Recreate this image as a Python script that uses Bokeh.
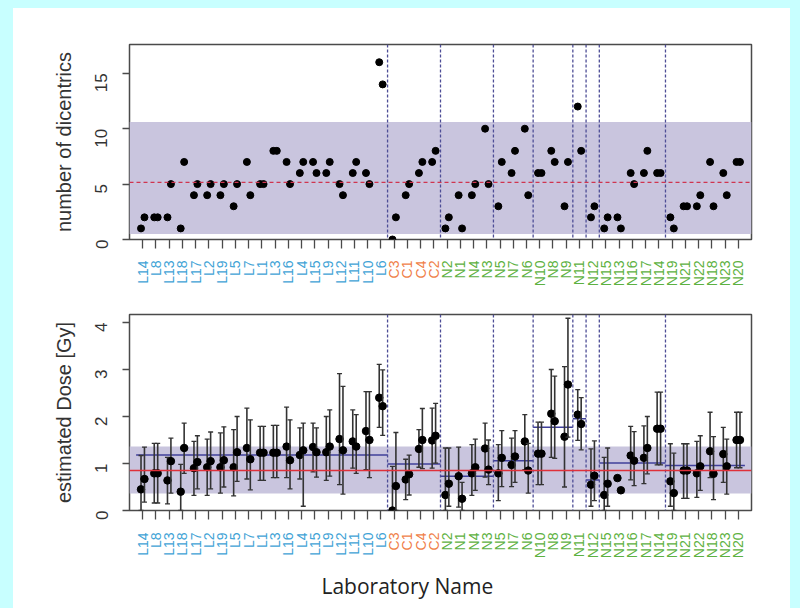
import math
from bokeh.plotting import figure
from bokeh.models import Span, BoxAnnotation, ColumnDataSource, FixedTicker
from bokeh.layouts import column
from bokeh.core.properties import value
from bokeh.embed import file_html
from bokeh.resources import INLINE

nan = float("nan")

labs = ["L14","L8","L13","L18","L17","L2","L19","L5","L7","L1","L3","L16","L4","L15","L9",
        "L12","L11","L10","L6","C3","C1","C4","C2","N2","N1","N4","N3","N5","N7","N6","N10",
        "N8","N9","N11","N12","N15","N13","N16","N17","N14","N19","N21","N22","N18","N23","N20"]

dic_a = [1,2,2,1,4,4,4,3,7,5,8,7,6,7,6,5,6,6,16, 0,4,6,7,
         1,4,4,10,3,6,10,6,8,3,12,2,1,2,6,6,6,2,3,3,7,6,7]
dic_b = [2,2,5,7,5,5,5,5,4,5,8,5,7,6,7,4,7,5,14, 2,5,7,8,
         2,1,5,5,7,8,4,6,7,7,8,3,2,1,5,8,6,1,3,4,3,4,7]

dose_a = [0.45,0.79,0.64,0.40,0.90,0.92,0.92,0.92,1.33,1.23,1.23,1.36,1.18,1.35,1.24,1.52,1.47,1.69,2.40,
          0.00,0.66,1.31,1.49,
          0.33,0.73,0.79,1.32,0.79,0.97,1.47,1.21,2.06,1.57,2.04,0.55,0.33,0.69,1.17,1.12,1.74,0.62,0.85,0.79,1.26,1.20,1.50]
lo_a = [0.00,0.16,0.14,0.00,0.32,0.32,0.37,0.31,0.67,0.64,0.70,0.70,0.67,0.82,0.64,0.55,0.90,0.87,1.77,
        0.00,0.23,0.92,0.90,
        0.00,0.07,0.32,0.71,0.21,0.51,0.87,0.55,1.13,0.50,1.49,0.09,0.00,nan,0.65,0.57,0.97,0.09,0.26,0.28,0.70,0.60,0.91]
hi_a = [1.17,1.43,1.13,0.98,1.47,1.52,1.65,1.72,2.18,1.79,1.81,2.20,1.76,1.86,2.00,2.91,2.14,2.53,3.11,
        0.94,1.09,1.72,2.18,
        1.33,1.35,1.40,1.86,1.40,1.54,2.04,1.88,3.00,3.06,2.57,1.31,1.13,nan,1.79,1.80,2.52,1.42,1.42,1.47,2.09,1.77,2.09]

dose_b = [0.67,0.79,1.05,1.33,1.03,1.05,1.07,1.24,1.09,1.23,1.23,1.07,1.28,1.24,1.36,1.28,1.36,1.50,2.22,
          0.52,0.77,1.50,1.59,
          0.57,0.25,0.92,0.87,1.12,1.15,0.85,1.21,1.90,2.68,1.84,0.74,0.57,0.43,1.06,1.33,1.74,0.37,0.85,0.94,0.78,0.94,1.50]
lo_b = [0.18,0.16,0.37,0.79,0.46,0.46,0.50,0.62,0.44,0.64,0.70,0.46,0.09,0.71,0.73,0.35,0.79,0.70,1.60,
        0.00,0.33,0.89,1.01,
        0.09,0.00,0.43,0.55,0.51,0.60,0.37,0.55,1.11,1.56,1.29,0.21,0.09,nan,0.53,0.78,0.97,0.00,0.26,0.43,0.23,0.35,0.91]
hi_b = [1.35,1.43,1.54,1.86,1.59,1.67,1.78,2.00,1.93,1.79,1.81,1.93,1.86,1.76,2.14,2.64,2.04,2.53,2.99,
        1.66,1.18,2.17,2.28,
        1.33,0.60,1.52,1.50,1.70,1.70,1.43,1.88,2.86,4.09,2.40,1.48,1.33,nan,1.68,2.00,2.52,1.22,1.42,1.59,1.57,1.52,2.09]

group_sizes = [19, 4, 4, 3, 3, 1, 1, 5, 6]
group_mean_dose = [1.18, 0.99, 0.73, 1.06, 1.77, 1.95, 0.65, 1.01, 0.96]

dic_mean, dic_band = 5.15, (0.5, 10.6)
dose_ref, dose_band = 0.85, (0.36, 1.36)

FONT = "Liberation Sans"
BAND = "#C9C5DE"
LAB_COLORS = {"L": "#3FA3D6", "C": "#F07F4A", "N": "#5DB141"}

n = len(labs)
xpos = list(range(1, n + 1))
off = 0.13
xa = [x - off for x in xpos]
xb = [x + off for x in xpos]
lab_cols = [LAB_COLORS[l[0]] for l in labs]

bounds = []
starts = []
c = 0
for s in group_sizes:
    starts.append(c + 1)
    c += s
    bounds.append(c + 0.5)
vlines = bounds[:-1]

W = 777
LB, RB = 116, 39


def base_fig(height, ymax, yticks, ylabel, top_border, bottom_border):
    p = figure(width=W, height=height, x_range=(0, n + 1), y_range=(0, ymax),
               output_backend="svg", toolbar_location=None,
               min_border_left=LB, min_border_right=RB,
               min_border_top=top_border, min_border_bottom=bottom_border)
    p.border_fill_color = "white"
    p.background_fill_color = "white"
    p.outline_line_color = "#4a4a4a"
    p.outline_line_width = 1.5
    p.grid.visible = False
    for ax in (p.xaxis, p.yaxis):
        ax.axis_line_color = None
        ax.major_tick_line_color = "#4a4a4a"
        ax.major_tick_line_width = 1.3
        ax.minor_tick_line_color = None
        ax.major_tick_in = 0
    p.xaxis.major_tick_out = 9
    p.yaxis.major_tick_out = 7
    p.xaxis.ticker = FixedTicker(ticks=xpos)
    p.xaxis.major_label_text_color = None
    p.xaxis.major_label_text_font_size = "1px"
    p.xaxis.major_label_standoff = 0
    p.yaxis.ticker = FixedTicker(ticks=yticks)
    p.yaxis.major_label_orientation = math.pi / 2
    p.yaxis.major_label_text_font = FONT
    p.yaxis.major_label_text_font_size = "17px"
    p.yaxis.major_label_text_color = "#333333"
    p.yaxis.major_label_standoff = 21
    p.yaxis.axis_label = ylabel
    p.yaxis.axis_label_text_font = FONT
    p.yaxis.axis_label_text_font_size = "20px"
    p.yaxis.axis_label_text_font_style = "normal"
    p.yaxis.axis_label_text_color = "#333333"
    p.yaxis.axis_label_standoff = 12
    for v in vlines:
        p.add_layout(Span(location=v, dimension="height", line_color="#4d4d96",
                          line_width=1.3, line_dash="3 2"))
    return p


def strip_fig(height, label_top):
    s = figure(width=W, height=height, x_range=(0, n + 1), y_range=(0, height),
               output_backend="svg", toolbar_location=None,
               min_border_left=LB, min_border_right=RB, min_border_top=0, min_border_bottom=0,
               x_axis_type=None, y_axis_type=None)
    s.border_fill_color = "white"
    s.background_fill_color = "white"
    s.outline_line_color = None
    s.grid.visible = False
    src = ColumnDataSource(dict(x=xpos, y=[height - label_top] * n, t=labs, c=lab_cols))
    s.text(x="x", y="y", text="t", source=src, text_color="c", angle=math.pi / 2,
           text_align="right", text_baseline="middle",
           text_font=value(FONT), text_font_size=value("14px"))
    return s


# ---------- top panel ----------
p1 = base_fig(245, 17.6, [0, 5, 10, 15], "number of dicentrics", 36, 14)
p1.add_layout(BoxAnnotation(bottom=dic_band[0], top=dic_band[1], fill_color=BAND,
                            fill_alpha=1.0, line_color=None, level="underlay"))
p1.add_layout(Span(location=dic_mean, dimension="width", line_color="#D0354F",
                   line_width=1.3, line_dash="4 3"))
p1.scatter(xa, dic_a, size=7, color="black")
p1.scatter(xb, dic_b, size=7, color="black")

s1 = strip_fig(47, 7)

# ---------- bottom panel ----------
p2 = base_fig(224, 4.17, [0, 1, 2, 3, 4], "estimated Dose [Gy]", 14, 14)
p2.add_layout(BoxAnnotation(bottom=dose_band[0], top=dose_band[1], fill_color=BAND,
                            fill_alpha=1.0, line_color=None, level="underlay"))
p2.add_layout(Span(location=dose_ref, dimension="width", line_color="#E0303A", line_width=1.5))
gx0 = [s - 0.5 for s in starts]
gx1 = bounds
p2.segment(x0=gx0, y0=group_mean_dose, x1=gx1, y1=group_mean_dose,
           line_color="#3f3f9a", line_width=1.5)
for xs, lo, hi, d in ((xa, lo_a, hi_a, dose_a), (xb, lo_b, hi_b, dose_b)):
    p2.segment(x0=xs, y0=lo, x1=xs, y1=hi, line_color="#333333", line_width=1.6)
    p2.scatter(xs, hi, marker="dash", size=5, line_color="#333333", line_width=1.3)
    p2.scatter(xs, lo, marker="dash", size=5, line_color="#333333", line_width=1.3)
    p2.scatter(xs, d, size=7.5, color="black")

s2 = strip_fig(84, 8)
s2.text(x=[21.2], y=[23], text=["Laboratory  Name"], text_align="center",
        text_baseline="middle", text_font=value("Open Sans"), text_font_size=value("21px"),
        text_color="#222222")

inner = column(p1, s1, p2, s2, spacing=0, margin=(8, 10, 0, 13),
               styles={"background-color": "white"})
layout = column(inner, width=800, height=608, styles={"background-color": "#C8FFFF"})
open("out.html", "w").write(file_html(layout, INLINE))
